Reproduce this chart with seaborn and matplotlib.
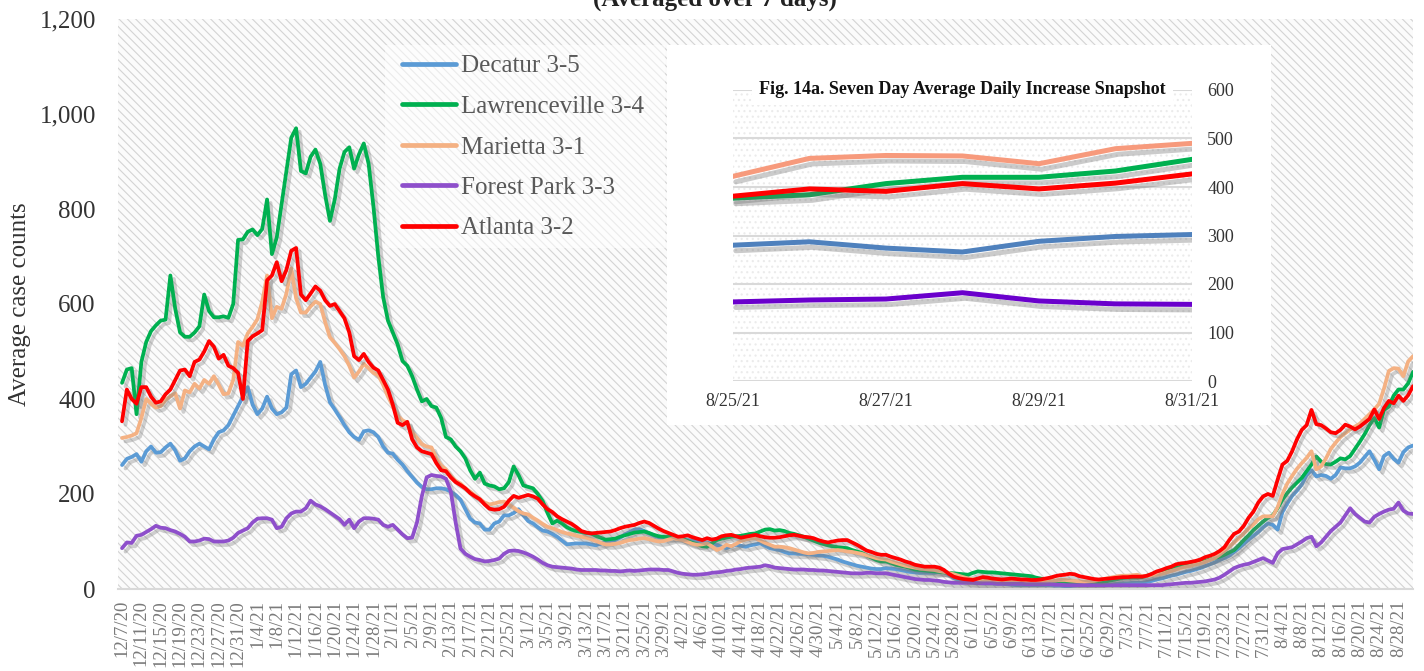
import numpy as np
import pandas as pd
import matplotlib
matplotlib.use('Agg')
import matplotlib.pyplot as plt
import matplotlib.patheffects as pe
from matplotlib.patches import Rectangle
from matplotlib.lines import Line2D
import seaborn as sns

sns.set_style('white')
plt.rcParams['font.family'] = ['Liberation Serif', 'DejaVu Serif']
plt.rcParams['hatch.linewidth'] = 0.8

# daily 7-day averages, 12/7/20 .. 8/31/21
dates = pd.date_range('2020-12-07', '2021-08-31', freq='D')
sites = ['Decatur 3-5', 'Lawrenceville 3-4', 'Marietta 3-1', 'Forest Park 3-3', 'Atlanta 3-2']

decatur = [
    261, 274, 278, 284, 268, 290, 300, 287, 288, 298,
    306, 292, 270, 275, 290, 300, 306, 300, 294, 315,
    330, 334, 345, 365, 385, 405, 425, 388, 368, 380,
    405, 380, 368, 372, 382, 452, 460, 425, 432, 445,
    458, 478, 430, 393, 378, 362, 345, 330, 320, 314,
    332, 334, 330, 320, 300, 287, 285, 272, 262, 248,
    236, 224, 215, 210, 210, 212, 212, 210, 205, 198,
    188, 168, 148, 140, 138, 125, 125, 138, 142, 155,
    155, 160, 168, 155, 143, 138, 130, 123, 121, 116,
    110, 102, 94, 95, 96, 96, 96, 94, 92, 95,
    99, 101, 103, 108, 115, 120, 125, 126, 122, 117,
    113, 109, 107, 108, 110, 109, 106, 103, 102, 101,
    100, 98, 95, 93, 89, 86, 90, 93, 91, 89,
    92, 94, 96, 91, 86, 84, 82, 78, 75, 75,
    74, 74, 73, 72, 71, 70, 68, 65, 62, 58,
    55, 52, 49, 47, 45, 43, 42, 42, 44, 43,
    42, 40, 38, 36, 35, 34, 34, 34, 34, 36,
    37, 30, 23, 20, 17, 15, 14, 13, 12, 12,
    12, 11, 11, 10, 9, 8, 8, 8, 8, 8,
    8, 8, 8, 7, 7, 6, 6, 7, 8, 8,
    8, 8, 8, 8, 9, 10, 11, 12, 12, 13,
    13, 13, 15, 17, 20, 22, 25, 28, 30, 33,
    36, 38, 41, 44, 48, 52, 56, 61, 65, 70,
    78, 86, 95, 104, 112, 120, 130, 138, 135, 125,
    162, 180, 196, 207, 220, 240, 250, 237, 240, 238,
    232, 240, 256, 254, 254, 258, 266, 278, 290, 272,
    252, 280, 287, 274, 266, 288, 298, 302,
]

lawrenceville = [
    434, 462, 465, 368, 478, 520, 543, 555, 565, 567,
    660, 590, 540, 531, 531, 540, 553, 620, 585, 572,
    572, 574, 571, 600, 735, 736, 752, 757, 745, 758,
    820, 705, 740, 810, 880, 950, 970, 880, 875, 910,
    925, 895, 830, 775, 820, 885, 920, 930, 885, 915,
    938, 895, 805, 700, 615, 565, 540, 515, 480, 470,
    448, 420, 395, 400, 385, 382, 360, 320, 315, 300,
    290, 275, 250, 232, 245, 222, 218, 216, 210, 212,
    225, 258, 240, 218, 215, 212, 200, 185, 160, 138,
    144, 138, 130, 125, 122, 120, 118, 117, 112, 108,
    104, 105, 106, 110, 113, 116, 119, 120, 121, 118,
    114, 111, 110, 110, 109, 109, 105, 101, 97, 94,
    90, 89, 96, 103, 106, 108, 110, 111, 112, 114,
    116, 117, 121, 125, 126, 123, 124, 122, 118, 116,
    113, 110, 106, 102, 98, 95, 92, 90, 88, 87,
    86, 82, 79, 76, 71, 66, 61, 58, 58, 55,
    51, 49, 47, 44, 41, 40, 39, 38, 37, 36,
    35, 34, 33, 32, 31, 30, 34, 37, 36, 35,
    35, 34, 33, 32, 31, 30, 29, 28, 27, 24,
    22, 20, 19, 17, 16, 15, 14, 13, 13, 12,
    12, 12, 13, 15, 17, 19, 21, 23, 24, 24,
    24, 25, 28, 31, 34, 37, 40, 42, 45, 47,
    49, 51, 53, 56, 59, 62, 65, 68, 72, 77,
    82, 92, 103, 113, 124, 133, 142, 150, 155, 170,
    188, 202, 214, 224, 234, 248, 262, 279, 268, 263,
    262, 268, 275, 273, 280, 295, 310, 326, 345, 360,
    340, 377, 384, 407, 420, 420, 433, 457,
]

marietta = [
    318, 320, 323, 328, 360, 400, 390, 382, 385, 398,
    406, 412, 380, 418, 414, 432, 422, 440, 432, 448,
    430, 410, 412, 440, 520, 512, 538, 552, 568, 605,
    660, 570, 594, 590, 622, 675, 612, 582, 582, 595,
    605, 600, 562, 530, 518, 505, 490, 470, 445, 458,
    474, 465, 455, 450, 430, 405, 385, 365, 355, 350,
    330, 318, 305, 300, 298, 275, 260, 252, 238, 228,
    222, 212, 205, 197, 189, 182, 178, 180, 183, 184,
    178, 171, 164, 159, 157, 150, 144, 137, 131, 128,
    124, 120, 117, 115, 112, 110, 108, 105, 101, 97,
    94, 94, 95, 97, 100, 103, 104, 106, 107, 105,
    102, 100, 101, 104, 107, 105, 103, 99, 95, 93,
    94, 96, 90, 82, 86, 93, 90, 95, 101, 104,
    106, 107, 102, 97, 93, 89, 89, 88, 86, 83,
    80, 77, 75, 76, 78, 79, 80, 81, 82, 81,
    79, 78, 76, 74, 71, 68, 65, 63, 62, 58,
    55, 52, 49, 47, 45, 43, 42, 41, 40, 38,
    36, 34, 31, 28, 25, 22, 21, 20, 19, 19,
    19, 18, 18, 17, 16, 15, 15, 15, 15, 15,
    16, 17, 18, 18, 19, 19, 18, 17, 16, 15,
    16, 17, 19, 21, 23, 25, 27, 28, 28, 29,
    30, 27, 28, 29, 30, 32, 35, 38, 41, 44,
    47, 49, 52, 54, 57, 61, 65, 72, 80, 89,
    98, 107, 117, 127, 136, 147, 153, 153, 153, 172,
    200, 222, 238, 253, 265, 276, 290, 252, 258, 275,
    295, 308, 320, 328, 336, 342, 348, 358, 368, 378,
    390, 422, 459, 465, 464, 448, 479, 490,
]

forest_park = [
    86, 98, 97, 112, 114, 120, 126, 133, 129, 128,
    124, 121, 116, 110, 100, 100, 102, 106, 105, 100,
    100, 100, 102, 108, 118, 123, 128, 140, 148, 149,
    149, 146, 128, 131, 149, 159, 163, 163, 170, 186,
    178, 174, 168, 161, 154, 147, 135, 146, 128, 142,
    149, 149, 148, 146, 135, 131, 135, 125, 115, 107,
    108, 140, 195, 235, 240, 238, 237, 232, 205, 140,
    85, 74, 68, 63, 61, 58, 59, 61, 64, 74,
    80, 81, 80, 77, 73, 68, 62, 55, 50, 47,
    46, 45, 44, 43, 41, 40, 40, 40, 40, 39,
    39, 38, 38, 37, 38, 39, 38, 39, 40, 41,
    41, 41, 40, 40, 37, 34, 32, 31, 30, 30,
    31, 32, 34, 35, 36, 38, 39, 41, 42, 44,
    45, 46, 47, 50, 48, 45, 44, 43, 42, 41,
    41, 41, 40, 40, 39, 39, 38, 37, 36, 35,
    34, 33, 33, 33, 34, 34, 33, 33, 33, 31,
    29, 27, 25, 23, 21, 20, 19, 19, 18, 17,
    15, 14, 13, 13, 13, 13, 13, 12, 12, 12,
    12, 11, 11, 11, 11, 11, 11, 10, 10, 10,
    10, 10, 10, 9, 9, 8, 8, 8, 8, 8,
    8, 8, 8, 8, 8, 8, 8, 8, 8, 8,
    8, 8, 8, 8, 8, 8, 9, 10, 11, 12,
    13, 13, 14, 15, 16, 18, 20, 24, 30, 37,
    44, 48, 51, 53, 57, 61, 65, 60, 55, 75,
    84, 86, 88, 94, 100, 107, 110, 90, 98, 110,
    122, 131, 140, 155, 170, 158, 150, 142, 140, 152,
    158, 163, 167, 169, 182, 165, 159, 158,
]

atlanta = [
    353, 420, 400, 390, 425, 425, 405, 392, 395, 410,
    420, 440, 460, 462, 448, 478, 483, 500, 522, 510,
    485, 493, 470, 465, 455, 400, 522, 532, 538, 545,
    650, 660, 688, 648, 672, 712, 718, 620, 608, 622,
    637, 628, 608, 596, 600, 585, 570, 540, 490, 482,
    495, 478, 466, 460, 440, 420, 388, 350, 345, 352,
    315, 298, 290, 287, 284, 265, 250, 248, 235, 225,
    219, 212, 202, 195, 189, 178, 169, 167, 168, 173,
    186, 196, 192, 195, 198, 195, 190, 178, 168, 162,
    153, 147, 142, 137, 130, 122, 119, 117, 118, 119,
    120, 121, 124, 128, 131, 133, 135, 139, 142, 139,
    133, 127, 122, 118, 114, 110, 111, 113, 109, 106,
    103, 107, 104, 106, 111, 113, 114, 111, 108, 110,
    112, 114, 111, 109, 108, 108, 109, 111, 113, 114,
    112, 110, 109, 107, 103, 100, 98, 100, 102, 103,
    103, 98, 93, 87, 81, 78, 74, 72, 72, 68,
    65, 62, 58, 55, 51, 49, 47, 47, 47, 45,
    40, 32, 26, 23, 21, 20, 19, 22, 25, 24,
    22, 21, 20, 21, 22, 21, 20, 20, 19, 19,
    20, 22, 24, 27, 29, 30, 32, 31, 27, 25,
    23, 21, 20, 21, 22, 23, 24, 25, 25, 26,
    26, 26, 28, 32, 37, 40, 44, 47, 52, 54,
    55, 57, 59, 62, 67, 70, 74, 80, 88, 103,
    116, 121, 133, 150, 163, 182, 195, 200, 196, 230,
    262, 270, 290, 315, 335, 345, 377, 347, 345, 338,
    330, 328, 335, 346, 342, 336, 342, 350, 358, 378,
    358, 381, 396, 391, 407, 396, 408, 427,
]

series = [decatur, lawrenceville, marietta, forest_park, atlanta]
for s in series:
    assert len(s) == len(dates), len(s)

main_colors = ['#5B9BD5', '#00B050', '#F4B183', '#8E4FCB', '#FF0000']
inset_colors = ['#4F81BD', '#00B050', '#F79A7C', '#6A00CC', '#FF0000']

df = pd.concat([pd.DataFrame({'date': dates, 'cases': vals, 'site': name})
                for name, vals in zip(sites, series)], ignore_index=True)
df_inset = df[df['date'] >= '2021-08-25']

W, H = 1424, 671
fig = plt.figure(figsize=(W / 100, H / 100), dpi=100, facecolor='white')

# main chart
ax = fig.add_axes([118 / W, (H - 589) / H, 1295 / W, 570 / H])
ax.set_facecolor('white')
ax.add_patch(Rectangle((0, 0), 1, 1, transform=ax.transAxes, facecolor='#fbfbfb',
                       edgecolor='#d4d4d4', hatch='\\' * 4, lw=0, zorder=0))

sns.lineplot(data=df, x='date', y='cases', hue='site', hue_order=sites,
             palette=dict(zip(sites, main_colors)), linewidth=2.7, legend=False, ax=ax)
shadow = [pe.SimpleLineShadow(offset=(2.5, -2.5), shadow_color='#7a7a7a', alpha=0.35), pe.Normal()]
for line in ax.lines:
    line.set_path_effects(shadow)
    line.set_solid_joinstyle('round')

ax.set_ylim(0, 1200)
ax.set_yticks(range(0, 1201, 200))
ax.set_yticklabels([f'{v:,}' for v in range(0, 1201, 200)])
ax.set_xlim(dates[0] - pd.Timedelta(hours=20), dates[-1])
tick_dates = dates[::4]
ax.set_xticks(tick_dates)
ax.set_xticklabels([f'{d.month}/{d.day}/{d.strftime("%y")}' for d in tick_dates], rotation=90)
ax.tick_params(axis='y', length=0, pad=16, labelsize=18, labelcolor='#333333')
ax.tick_params(axis='x', length=0, pad=8, labelsize=13.5, labelcolor='#7a7a7a')
for side in ['top', 'right', 'left']:
    ax.spines[side].set_visible(False)
ax.spines['bottom'].set_color('#d9d9d9')
ax.spines['bottom'].set_linewidth(1.5)
ax.set_xlabel('')
ax.set_ylabel('Average case counts', fontsize=18, color='#333333', labelpad=6)

# legend on a pale box
ax.add_patch(Rectangle(((385 - 118) / 1295, (589 - 248) / 570), 280 / 1295, 203 / 570,
                       transform=ax.transAxes, facecolor='white', alpha=0.55, lw=0, zorder=3))
handles = [Line2D([0], [0], color=c, lw=3.4) for c in main_colors]
leg = ax.legend(handles, sites, loc='upper left', bbox_to_anchor=((402 - 118) / 1295, (589 - 55) / 570),
                frameon=False, fontsize=18, handlelength=2.15, handletextpad=0.2,
                labelspacing=0.72, borderpad=0, borderaxespad=0)
leg.set_zorder(4)
for t in leg.get_texts():
    t.set_color('#595959')

fig.text(715 / W, 1 - 6 / H, '(Averaged over 7 days)', ha='center', va='baseline',
         fontsize=18, fontweight='bold', color='#222222')

# inset snapshot
box = fig.add_axes([667 / W, (H - 425) / H, 604 / W, 380 / H])
box.set_zorder(2)
box.set_facecolor('white')
box.set_xticks([])
box.set_yticks([])
for s in box.spines.values():
    s.set_visible(False)

ins = fig.add_axes([733 / W, (H - 381) / H, 459 / W, 291 / H])
ins.set_zorder(3)
ins.set_facecolor('white')
ins.add_patch(Rectangle((0, 0), 1, 1, transform=ins.transAxes, facecolor='white',
                        edgecolor='#ebebeb', hatch='...', lw=0, zorder=0))
sns.lineplot(data=df_inset, x='date', y='cases', hue='site', hue_order=sites,
             palette=dict(zip(sites, inset_colors)), linewidth=3.6, legend=False, ax=ins)
shadow2 = [pe.SimpleLineShadow(offset=(2, -4), shadow_color='#6a6a6a', alpha=0.35), pe.Normal()]
for line in ins.lines:
    line.set_path_effects(shadow2)

ins.set_ylim(0, 600)
ins.set_yticks(range(0, 601, 100))
ins.yaxis.tick_right()
ins_dates = pd.to_datetime(['2021-08-25', '2021-08-27', '2021-08-29', '2021-08-31'])
ins.set_xticks(ins_dates)
ins.set_xticklabels([f'{d.month}/{d.day}/{d.strftime("%y")}' for d in ins_dates])
ins.set_xlim(pd.Timestamp('2021-08-25'), pd.Timestamp('2021-08-31'))
ins.grid(axis='y', color='#d9d9d9', lw=1.5)
ins.grid(axis='x', visible=False)
ins.set_axisbelow(True)
ins.tick_params(axis='both', length=0, labelsize=13, labelcolor='#333333')
ins.tick_params(axis='y', pad=11)
ins.tick_params(axis='x', pad=9)
for s in ins.spines.values():
    s.set_visible(False)
ins.set_xlabel('')
ins.set_ylabel('')
ins.text(0.5, 600, 'Fig. 14a. Seven Day Average Daily Increase Snapshot',
         transform=ins.get_yaxis_transform(), ha='center', va='center',
         fontsize=13, fontweight='bold', color='#111111', clip_on=False,
         bbox=dict(facecolor='white', edgecolor='none', pad=5), zorder=5)

fig.savefig('out.png', dpi=100)
